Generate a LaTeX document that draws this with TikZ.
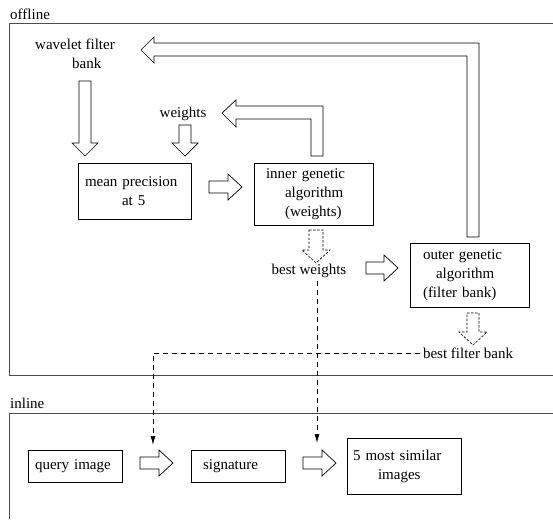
\documentclass[tikz,border=0pt]{standalone}
\usepackage{fontspec}
\setmainfont{Liberation Serif}
\usetikzlibrary{arrows.meta}
\begin{document}
\begin{tikzpicture}[x=1pt,y=-1pt,
  font=\fontsize{15}{19}\selectfont,
  frame/.style={draw=black!70,line width=1pt},
  box/.style={draw,line width=0.7pt,align=left,inner ysep=2pt},
  txt/.style={inner sep=3pt,align=left},
  barrow/.style={draw,fill=white,line width=0.7pt,line join=miter},
  dbarrow/.style={draw,fill=white,line width=0.6pt,dash pattern=on 2.5pt off 1.5pt},
  dashline/.style={draw,line width=0.7pt,dash pattern=on 5pt off 4pt,-{Latex[length=9pt,width=5pt]}}]
\useasboundingbox (0,0) rectangle (553,519);
% frames
\draw[frame] (553,24) -- (9,24) -- (9,375) -- (553,375);
\draw[frame] (553,413) -- (9,413) -- (9,519);
\node[txt,anchor=west] (off) at (7,14) {offline};
\node[txt,anchor=west] (inl) at (7,403) {inline};
% offline texts and boxes
\node[txt,anchor=west] (wfb) at (32,54) {wavelet filter\\\hspace*{37pt}bank};
\node[txt] (w) at (183,114) {weights};
\node[box,minimum width=113pt,minimum height=56pt,text width=99pt,inner xsep=7pt] (mp) at (134.5,191) {mean precision\\\hspace*{37pt}at 5};
\node[box,minimum width=119pt,minimum height=62pt,text width=95pt,inner xsep=12pt] (ig) at (313.5,194) {inner genetic\\\hspace*{19pt}algorithm\\\hspace*{19pt}(weights)};
\node[txt] (bw) at (309,271) {best weights};
\node[box,minimum width=119pt,minimum height=64pt,text width=93pt,inner xsep=13pt] (og) at (469.5,275) {outer genetic\\\hspace*{13pt}algorithm\\(filter bank)};
\node[txt] (bfb) at (468,353) {best filter bank};
% inline boxes
\node[box,minimum width=94pt,minimum height=32pt,text width=80pt,inner xsep=7pt] (qi) at (75,466) {query image};
\node[box,minimum width=94pt,minimum height=32pt,text width=70pt,inner xsep=12pt] (sg) at (238,466) {signature};
\node[box,minimum width=114pt,minimum height=56pt,text width=102pt,inner xsep=6pt] (ms) at (404,466) {5 most similar\\\hspace*{25pt}images};
% block arrows (down)
\draw[barrow] (79,81) -- (91,81) -- (91,143) -- (98,143) -- (85,156) -- (72,143) -- (79,143) -- cycle;
\draw[barrow] (179,125) -- (191,125) -- (191,143) -- (198,143) -- (185,156) -- (172,143) -- (179,143) -- cycle;
% block arrows (right)
\draw[barrow] (209,181) -- (228,181) -- (228,174) -- (242,187) -- (228,200) -- (228,193) -- (209,193) -- cycle;
\draw[barrow] (366,262) -- (384,262) -- (384,255) -- (398,268) -- (384,281) -- (384,274) -- (366,274) -- cycle;
\draw[barrow] (140,457) -- (159,457) -- (159,450) -- (173,463) -- (159,476) -- (159,469) -- (140,469) -- cycle;
\draw[barrow] (303,457) -- (322,457) -- (322,450) -- (336,463) -- (322,476) -- (322,469) -- (303,469) -- cycle;
% L-shaped feedback arrows
\draw[barrow] (479,237) -- (479,43) -- (154,43) -- (154,37) -- (141,50) -- (154,63) -- (154,56) -- (467,56) -- (467,237) -- cycle;
\draw[barrow] (323,156) -- (323,106) -- (236,106) -- (236,100) -- (222,113) -- (236,127) -- (236,119) -- (311,119) -- (311,156) -- cycle;
% dotted block arrows
\draw[dbarrow] (309,230) -- (323,230) -- (323,250) -- (330,250) -- (316,263) -- (302,250) -- (309,250) -- cycle;
\draw[dbarrow] (467,313) -- (479,313) -- (479,332) -- (487,332) -- (473,345) -- (459,332) -- (467,332) -- cycle;
% dashed connectors
\coordinate (t1) at (153,445);
\coordinate (t2) at (317,443);
\draw[dashline] (bfb.west) -| (t1);
\draw[dashline] (bw.south -| t2) -- (t2);
\end{tikzpicture}
\end{document}
